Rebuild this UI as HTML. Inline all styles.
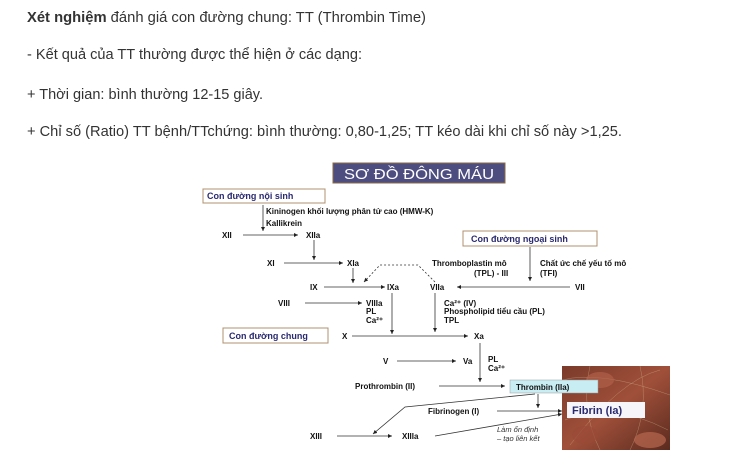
<!DOCTYPE html>
<html><head><meta charset="utf-8"><style>
html,body{margin:0;padding:0;background:#fff;width:733px;height:467px;overflow:hidden}
svg{display:block}
.t{font-family:"Liberation Sans",Arial,sans-serif;font-size:15px;fill:#333}
.d{font-family:"Liberation Sans",Arial,sans-serif;font-size:8px;font-weight:bold;fill:#111}
.n{font-family:"Liberation Sans",Arial,sans-serif;font-size:9px;font-weight:bold;fill:#2a2a70}
</style></head><body>
<svg width="733" height="467" viewBox="0 0 733 467" xmlns="http://www.w3.org/2000/svg">
<defs>
<marker id="a" viewBox="0 0 6 6" refX="6" refY="3" markerWidth="5" markerHeight="5" orient="auto"><path d="M0,0L6,3L0,6z" fill="#222"/></marker>
<linearGradient id="ph" x1="0" y1="0" x2="1" y2="1"><stop offset="0" stop-color="#7a3a2a"/><stop offset="0.5" stop-color="#a0503a"/><stop offset="1" stop-color="#5a2a1e"/></linearGradient>
</defs>
<text class="t" x="27" y="22" textLength="399" lengthAdjust="spacingAndGlyphs"><tspan font-weight="bold">Xét nghiệm</tspan> đánh giá con đường chung: TT (Thrombin Time)</text>
<text class="t" x="27" y="59" textLength="335" lengthAdjust="spacingAndGlyphs">- Kết quả của TT thường được thể hiện ở các dạng:</text>
<text class="t" x="27" y="99" textLength="236" lengthAdjust="spacingAndGlyphs">+ Thời gian: bình thường 12-15 giây.</text>
<text class="t" x="27" y="136" textLength="595" lengthAdjust="spacingAndGlyphs">+ Chỉ số (Ratio) TT bệnh/TTchứng: bình thường: 0,80-1,25; TT kéo dài khi chỉ số này &gt;1,25.</text>

<rect x="333" y="163" width="172" height="20" fill="#4d4d80" stroke="#8a6a4a" stroke-width="1"/>
<text x="419" y="179" text-anchor="middle" font-family="Liberation Sans,sans-serif" font-size="15" fill="#fff" textLength="150" lengthAdjust="spacingAndGlyphs">SƠ ĐỒ ĐÔNG MÁU</text>

<rect x="203" y="189" width="122" height="14" fill="#fff" stroke="#b09070"/>
<text class="n" x="207" y="199">Con đường nội sinh</text>
<rect x="463" y="231" width="134" height="15" fill="#fff" stroke="#b09070"/>
<text class="n" x="471" y="242">Con đường ngoại sinh</text>
<rect x="223" y="328" width="105" height="15" fill="#fff" stroke="#b09070"/>
<text class="n" x="229" y="339">Con đường chung</text>

<g stroke="#333" stroke-width="0.8" fill="none" marker-end="url(#a)">
<line x1="263" y1="205" x2="263" y2="231"/>
<line x1="243" y1="235" x2="298" y2="235"/>
<line x1="314" y1="240" x2="314" y2="260"/>
<line x1="284" y1="263" x2="343" y2="263"/>
<line x1="353" y1="268" x2="353" y2="283"/>
<line x1="530" y1="247" x2="530" y2="281"/>
<line x1="324" y1="287" x2="385" y2="287"/>
<line x1="570" y1="287" x2="457" y2="287"/>
<line x1="305" y1="303" x2="362" y2="303"/>
<line x1="392" y1="293" x2="392" y2="334"/>
<line x1="435" y1="293" x2="435" y2="332"/>
<line x1="352" y1="336" x2="468" y2="336"/>
<line x1="480" y1="343" x2="480" y2="382"/>
<line x1="397" y1="361" x2="456" y2="361"/>
<line x1="439" y1="386" x2="505" y2="386"/>
<line x1="337" y1="436" x2="392" y2="436"/>
<polyline points="435,282 418,265 380,265 364,282" stroke-dasharray="2,2"/>
</g>

<rect x="562" y="366" width="108" height="84" fill="url(#ph)"/>
<g stroke="#d8c8a0" stroke-width="0.4" opacity="0.6" fill="none">
<path d="M562,380 Q600,370 670,395 M565,420 Q610,400 668,430 M570,445 Q620,380 660,370 M590,366 Q580,410 600,450 M640,366 Q650,410 630,450"/>
</g>
<ellipse cx="600" cy="380" rx="14" ry="8" fill="#b0604a" opacity="0.7"/>
<ellipse cx="650" cy="440" rx="16" ry="8" fill="#b86850" opacity="0.7"/>
<ellipse cx="585" cy="435" rx="13" ry="9" fill="#9a4a38" opacity="0.7"/>

<rect x="510" y="380" width="88" height="13" fill="#c8eef4" stroke="#999" stroke-width="0.5"/>
<text class="d" x="516" y="390" fill="#222">Thrombin (IIa)</text>
<rect x="567" y="402" width="78" height="16" fill="#f6f6fa"/>
<text x="572" y="414" font-family="Liberation Sans,sans-serif" font-size="11" font-weight="bold" fill="#2a2a70">Fibrin (Ia)</text>

<g stroke="#333" stroke-width="0.8" fill="none" marker-end="url(#a)">
<line x1="538" y1="394" x2="538" y2="408"/>
<line x1="497" y1="411" x2="562" y2="411"/>
<polyline points="535,394 405,407 373,434"/>
<line x1="435" y1="436" x2="562" y2="414"/>
</g>

<text class="d" x="266" y="214">Kininogen khối lượng phân tử cao (HMW-K)</text>
<text class="d" x="266" y="226">Kallikrein</text>
<text class="d" x="222" y="238">XII</text>
<text class="d" x="306" y="238">XIIa</text>
<text class="d" x="267" y="266">XI</text>
<text class="d" x="347" y="266">XIa</text>
<text class="d" x="432" y="266">Thromboplastin mô</text>
<text class="d" x="474" y="276">(TPL) - III</text>
<text class="d" x="540" y="266">Chất ức chế yếu tố mô</text>
<text class="d" x="540" y="276">(TFI)</text>
<text class="d" x="310" y="290">IX</text>
<text class="d" x="387" y="290">IXa</text>
<text class="d" x="430" y="290">VIIa</text>
<text class="d" x="575" y="290">VII</text>
<text class="d" x="278" y="306">VIII</text>
<text class="d" x="366" y="306">VIIIa</text>
<text class="d" x="366" y="314">PL</text>
<text class="d" x="366" y="323">Ca²⁺</text>
<text class="d" x="444" y="306">Ca²⁺ (IV)</text>
<text class="d" x="444" y="314">Phospholipid tiểu cầu (PL)</text>
<text class="d" x="444" y="323">TPL</text>
<text class="d" x="342" y="339">X</text>
<text class="d" x="474" y="339">Xa</text>
<text class="d" x="383" y="364">V</text>
<text class="d" x="463" y="364">Va</text>
<text class="d" x="488" y="362">PL</text>
<text class="d" x="488" y="371">Ca²⁺</text>
<text class="d" x="355" y="389">Prothrombin (II)</text>
<text class="d" x="428" y="414">Fibrinogen (I)</text>
<text class="d" x="310" y="439">XIII</text>
<text class="d" x="402" y="439">XIIIa</text>
<text x="497" y="432" font-family="Liberation Sans,sans-serif" font-size="7.5" font-style="italic" fill="#333">Làm ổn định</text>
<text x="497" y="441" font-family="Liberation Sans,sans-serif" font-size="7.5" font-style="italic" fill="#333">– tạo liên kết</text>
</svg>
</body></html>
